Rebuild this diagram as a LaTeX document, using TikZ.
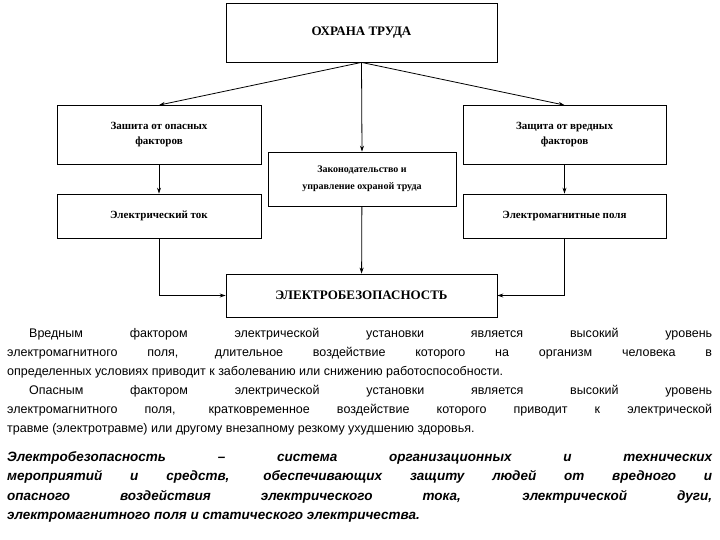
\documentclass[tikz,border=0pt]{standalone}
\usepackage{fontspec}
\usetikzlibrary{arrows.meta}
\setmainfont{Liberation Serif}
\newfontfamily\arialf{Liberation Sans}
\begin{document}
\begin{tikzpicture}[x=1pt,y=-1pt,
  box/.style={draw,line width=0.8pt,inner sep=0pt,font=\bfseries\fontsize{11}{15}\selectfont,align=center},
  arr/.style={-{Stealth[length=6pt,width=4pt]},line width=0.8pt}]
\useasboundingbox (0,0) rectangle (720,540);
\node[box,minimum width=271pt,minimum height=59pt,font=\bfseries\fontsize{13}{15}\selectfont] (top) at (361.5,32.5) {ОХРАНА ТРУДА};
\node[box,minimum width=204pt,minimum height=59pt] (l1) at (159,135) {Зашита от опасных\\факторов};
\node[box,minimum width=203pt,minimum height=59pt] (r1) at (564.5,135) {Защита от вредных\\факторов};
\node[box,minimum width=188pt,minimum height=54pt,font=\bfseries\fontsize{10}{17}\selectfont] (m) at (362,179) {Законодательство и\\управление охраной труда};
\node[box,minimum width=204pt,minimum height=44pt] (l2) at (159,216) {Электрический ток};
\node[box,minimum width=203pt,minimum height=44pt] (r2) at (564.5,216) {Электромагнитные поля};
\node[box,minimum width=271pt,minimum height=43pt,font=\bfseries\fontsize{13}{15}\selectfont] (b) at (361.5,295.5) {ЭЛЕКТРОБЕЗОПАСНОСТЬ};
\draw[arr] (top.south) -- (l1.north);
\draw[arr] (top.south) -- (r1.north);
\draw[arr] (top.south) -- (m.north);
\draw[arr] (l1) -- (l2);
\draw[arr] (r1) -- (r2);
\draw[arr] (m) -- (b);
\draw[arr] (l2.south) |- (b.west);
\draw[arr] (r2.south) |- (b.east);
\node[anchor=north west,inner sep=0pt] (t1) at (7,328) {\begin{minipage}{705pt}\arialf\fontsize{12.5}{19}\selectfont\setlength\parindent{22pt}\setlength\parfillskip{0pt plus 1fil}
Вредным фактором электрической установки является высокий уровень\linebreak
\noindent электромагнитного поля, длительное воздействие которого на организм человека в\linebreak
определенных условиях приводит к заболеванию или снижению работоспособности.\par
Опасным фактором электрической установки является высокий уровень\linebreak
электромагнитного поля, кратковременное воздействие которого приводит к электрической\linebreak
травме (электротравме) или другому внезапному резкому ухудшению здоровья.\par
\end{minipage}};
\node[anchor=north west,inner sep=0pt] (t2) at (7,451) {\begin{minipage}{705pt}\arialf\bfseries\itshape\fontsize{13.5}{19.5}\selectfont\setlength\parindent{0pt}
Электробезопасность – система организационных и технических\linebreak
мероприятий и средств, обеспечивающих защиту людей от вредного и\linebreak
опасного воздействия электрического тока, электрической дуги,\linebreak
электромагнитного поля и статического электричества.\par
\end{minipage}};
\end{tikzpicture}
\end{document}
